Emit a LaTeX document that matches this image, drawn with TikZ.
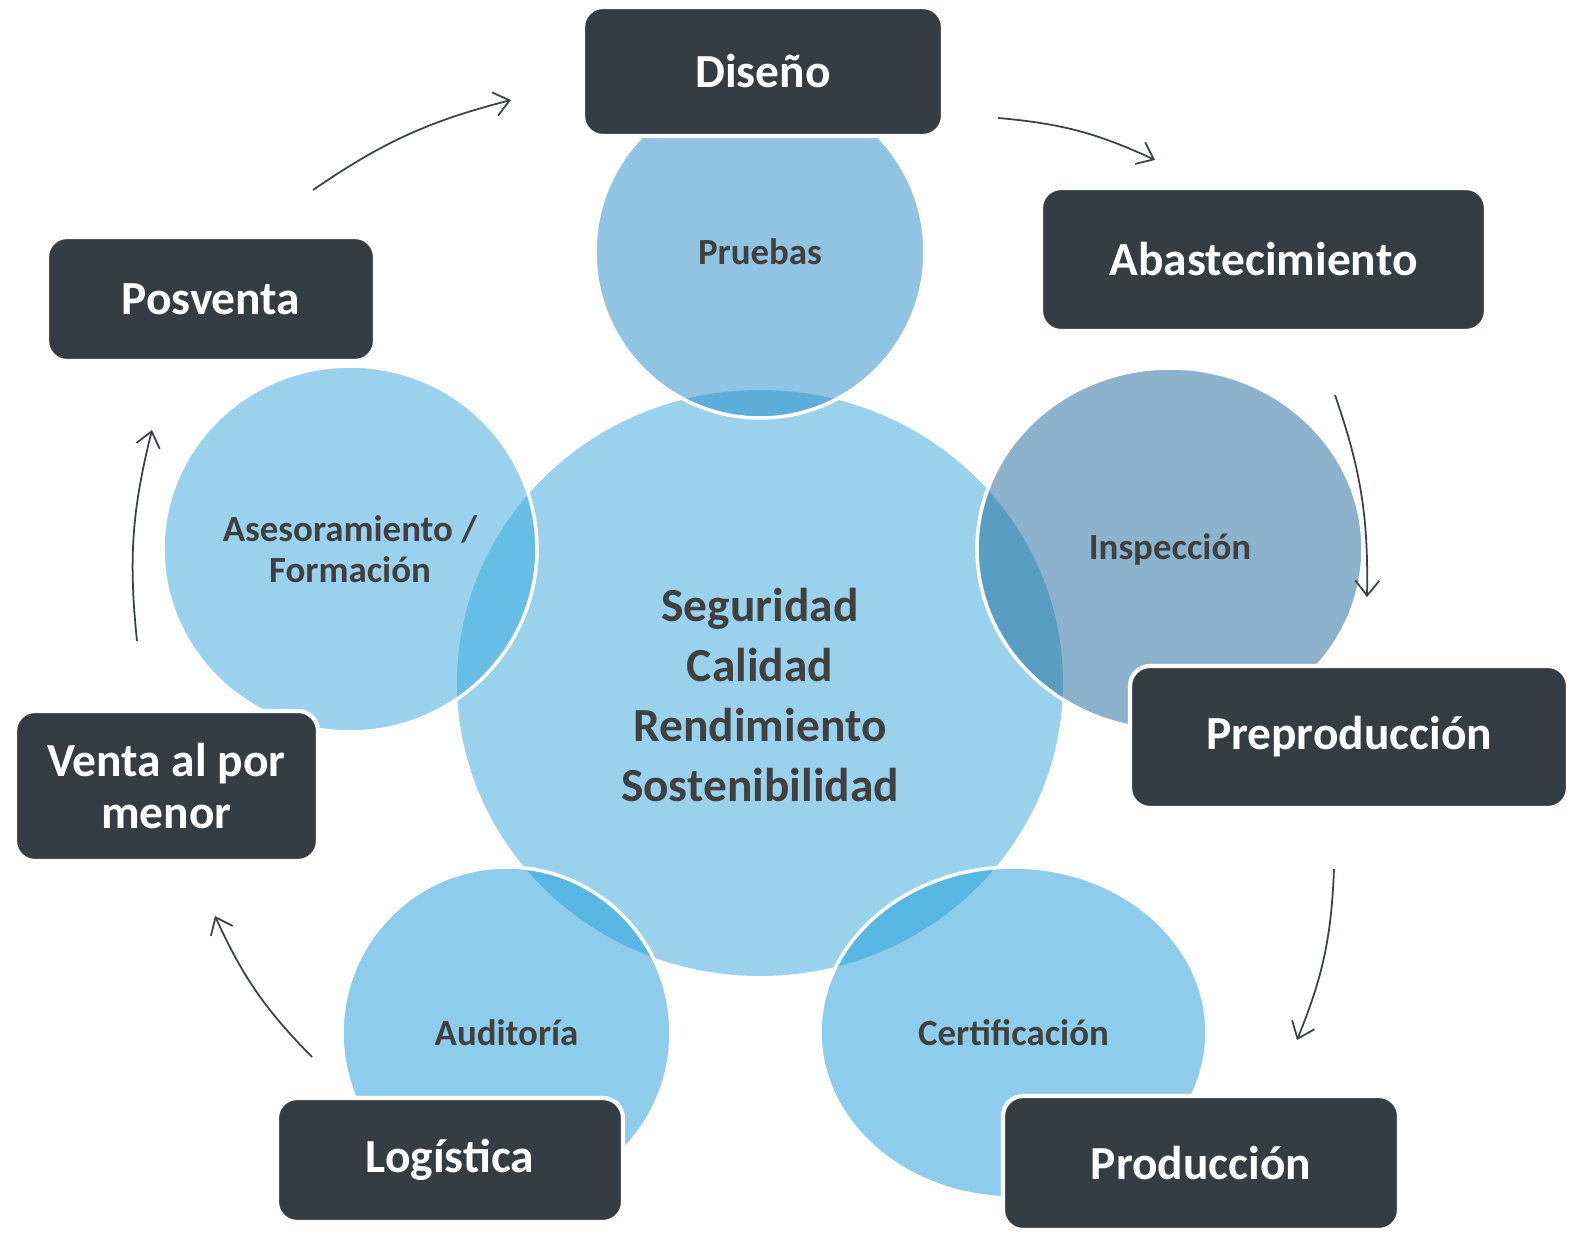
\documentclass[tikz,border=0pt]{standalone}
\usepackage{fontspec}
\setmainfont{Carlito}
\usetikzlibrary{shapes.geometric, arrows.meta, positioning, calc}
\definecolor{boxdark}{HTML}{333D42}
\definecolor{textgray}{HTML}{404040}
\definecolor{coreblue}{HTML}{9AD2EE}
\definecolor{pruebasblue}{HTML}{91C3E2}
\definecolor{pruebasdeep}{HTML}{5EAEDC}
\definecolor{inspecblue}{HTML}{8DB2CC}
\definecolor{inspecdeep}{HTML}{5A9DC3}
\definecolor{asesordeep}{HTML}{66BDE6}
\definecolor{ringblue}{HTML}{8DCDEB}
\definecolor{ringdeep}{HTML}{58B6E2}
\definecolor{arrowgray}{HTML}{3A4247}
\tikzstyle{stagebox} = [rectangle, rounded corners=0.2cm, fill=boxdark, draw=white, line width=1.2pt,
                        text=white, font=\fontsize{13.5}{15}\selectfont\bfseries, align=center, inner sep=0pt]
\tikzstyle{bubble} = [ellipse, inner sep=0pt, text=textgray, font=\fontsize{10.5}{11.5}\selectfont\bfseries, align=center]
\tikzstyle{rim} = [draw=white, line width=1pt]
\tikzstyle{arrow} = [line width=0.5pt, arrowgray, -{Straight Barb[length=1.5mm, width=2.4mm]}]

\begin{document}
\begin{tikzpicture}
    \useasboundingbox (0,0) rectangle (15.87,12.46);

    % Core circle
    \node[bubble, fill=coreblue, minimum width=6.06cm, minimum height=5.86cm] (nucleo) at (7.60,5.63) {};
    \node[text=textgray, font=\fontsize{13.5}{17}\selectfont\bfseries, align=center] (valores)
          at ($(nucleo.center)+(0,-0.12)$) {Seguridad\\Calidad\\Rendimiento\\Sostenibilidad};

    % Satellite circles
    \node[bubble, fill=pruebasblue, minimum width=3.30cm, minimum height=3.32cm] (pruebas) at (7.60,9.94) {Pruebas};
    \node[bubble, fill=inspecblue, minimum width=3.86cm, minimum height=3.62cm] (inspeccion) at (11.70,6.97) {Inspección};
    \node[bubble, fill=coreblue, minimum width=3.74cm, minimum height=3.66cm] (asesoramiento) at (3.50,6.97) {Asesoramiento /\\Formación};
    \node[bubble, fill=ringblue, minimum width=3.29cm, minimum height=3.32cm] (auditoria) at (5.065,2.13) {Auditoría};
    \node[bubble, fill=ringblue, minimum width=3.87cm, minimum height=3.31cm] (certificacion) at (10.135,2.135) {Certificación};

    % Overlaps with the core
    \begin{scope}
        \clip (nucleo.center) ellipse [x radius=3.03cm, y radius=2.93cm];
        \fill[pruebasdeep] (pruebas.center) ellipse [x radius=1.65cm, y radius=1.66cm];
        \fill[inspecdeep] (inspeccion.center) ellipse [x radius=1.93cm, y radius=1.81cm];
        \fill[asesordeep] (asesoramiento.center) ellipse [x radius=1.87cm, y radius=1.83cm];
        \fill[ringdeep] (auditoria.center) ellipse [x radius=1.645cm, y radius=1.66cm];
        \fill[ringdeep] (certificacion.center) ellipse [x radius=1.935cm, y radius=1.655cm];
    \end{scope}
    \draw[rim] (pruebas.center) ellipse [x radius=1.65cm, y radius=1.66cm];
    \draw[rim] (inspeccion.center) ellipse [x radius=1.93cm, y radius=1.81cm];
    \draw[rim] (asesoramiento.center) ellipse [x radius=1.87cm, y radius=1.83cm];
    \draw[rim] (auditoria.center) ellipse [x radius=1.645cm, y radius=1.66cm];
    \draw[rim] (certificacion.center) ellipse [x radius=1.935cm, y radius=1.655cm];

    % Stages
    \node[stagebox, minimum width=3.60cm, minimum height=1.29cm] (diseno) at (7.63,11.745) {Diseño};
    \node[stagebox, minimum width=4.45cm, minimum height=1.43cm] (abastecimiento) at (12.635,9.865) {Abastecimiento};
    \node[stagebox, minimum width=4.38cm, minimum height=1.42cm] (preproduccion) at (13.49,5.09) {Preproducción};
    \node[stagebox, minimum width=3.96cm, minimum height=1.34cm] (produccion) at (12.01,0.83) {Producción};
    \node[stagebox, minimum width=3.46cm, minimum height=1.24cm] (logistica) at (4.50,0.86) {Logística};
    \node[stagebox, minimum width=3.03cm, minimum height=1.50cm] (venta) at (1.665,4.60) {Venta al por\\menor};
    \node[stagebox, minimum width=3.28cm, minimum height=1.24cm] (posventa) at (2.11,9.47) {Posventa};

    % Cycle arrows
    \coordinate (posventaout) at (3.13,10.56);
    \coordinate (disenoin) at (5.11,11.46);
    \coordinate (disenoout) at (9.98,11.28);
    \coordinate (abastin) at (11.55,10.86);
    \coordinate (abastout) at (13.35,8.51);
    \coordinate (preprodin) at (13.67,6.49);
    \coordinate (preprodout) at (13.34,3.77);
    \coordinate (prodin) at (12.97,2.06);
    \coordinate (logout) at (3.12,1.89);
    \coordinate (ventain) at (2.15,3.30);
    \coordinate (ventaout) at (1.37,6.05);
    \coordinate (posventain) at (1.52,8.16);
    \draw[arrow] (posventaout) to[bend left=10] (disenoin);
    \draw[arrow] (disenoout) to[bend left=10] (abastin);
    \draw[arrow] (abastout) to[bend left=10] (preprodin);
    \draw[arrow] (preprodout) to[bend left=10] (prodin);
    \draw[arrow] (logout) to[bend left=10] (ventain);
    \draw[arrow] (ventaout) to[bend left=10] (posventain);
\end{tikzpicture}
\end{document}
